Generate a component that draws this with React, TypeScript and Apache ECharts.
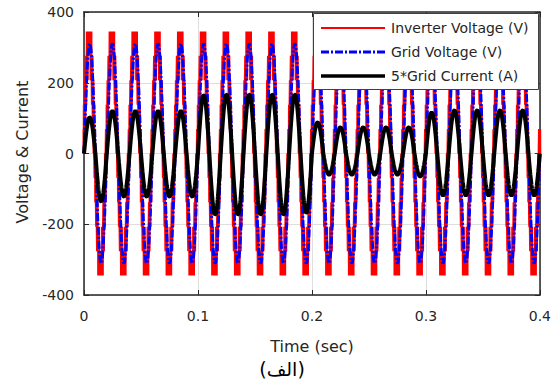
import React, { useEffect, useRef } from "react";
import * as echarts from "echarts";

// ---- data ----
const FREQ_HZ = 50;
const T_END = 0.4;
const xTicks = [0, 0.1, 0.2, 0.3, 0.4];
const yTicks = [-400, -200, 0, 200, 400];

// per-cycle (20 cycles of 50 Hz) peak / trough of "5*Grid Current"
const currentPeaks = [102, 120, 120, 120, 120, 165, 167, 167, 167, 167, 88, 74, 74, 74, 74, 116, 122, 122, 122, 122];
const currentTroughs = [-136, -122, -122, -122, -122, -173, -173, -173, -173, -168, -60, -60, -60, -60, -65, -119, -119, -119, -119, -119];
// per-cycle amplitude of grid voltage
const gridVoltagePeaks = [311, 311, 311, 311, 311, 311, 311, 311, 311, 311, 311, 311, 311, 311, 311, 311, 311, 311, 311, 311];
// multilevel inverter: reference amplitude per cycle and voltage levels
const inverterRefPeaks = [325, 325, 325, 325, 325, 325, 325, 325, 325, 325, 325, 325, 325, 325, 325, 325, 325, 325, 325, 325];
const inverterLevels = [0, 69, 138, 207, 276, 345];
const inverterLeadSec = 0.0005;
const carrierPeriodSec = 0.0002;
const sampleStepSec = 0.0001;

const seriesNames = ["Inverter Voltage (V)", "Grid Voltage (V)", "5*Grid Current (A)"];
const seriesColors = ["#ff0000", "#0000ff", "#000000"];

const W = 2 * Math.PI * FREQ_HZ;
const nCycles = gridVoltagePeaks.length;
const cycleOf = (t: number) => Math.max(0, Math.min(nCycles - 1, Math.floor(t * FREQ_HZ + 1e-9)));

function buildGrid() {
  const pts: number[][] = [];
  const n = Math.round(T_END / sampleStepSec);
  for (let i = 0; i <= n; i++) {
    const t = i * sampleStepSec;
    pts.push([t, gridVoltagePeaks[cycleOf(t)] * Math.sin(W * t)]);
  }
  return pts;
}

function buildCurrent() {
  const pts: number[][] = [];
  const n = Math.round(T_END / sampleStepSec);
  for (let i = 0; i <= n; i++) {
    const t = i * sampleStepSec;
    const k = cycleOf(t);
    const s = Math.sin(W * t);
    pts.push([t, s >= 0 ? currentPeaks[k] * s : -currentTroughs[k] * s]);
  }
  return pts;
}

function buildInverter() {
  const pts: number[][] = [];
  const step = inverterLevels[1] - inverterLevels[0];
  const nP = Math.round(T_END / carrierPeriodSec);
  const Tc = carrierPeriodSec;
  for (let i = 0; i < nP; i++) {
    const t0 = i * Tc;
    const tm = t0 + Tc / 2;
    const k = cycleOf(tm);
    const ref = inverterRefPeaks[k] * Math.sin(W * (tm + inverterLeadSec));
    const a = Math.abs(ref);
    const sg = ref >= 0 ? 1 : -1;
    let lo = Math.floor(a / step);
    if (lo >= inverterLevels.length - 1) lo = inverterLevels.length - 2;
    const frac = Math.min(1, (a - inverterLevels[lo]) / step);
    const vLo = sg * inverterLevels[lo];
    const vHi = sg * inverterLevels[lo + 1];
    const on = frac * Tc;
    pts.push([t0, vLo]);
    if (on > Tc * 0.02) {
      const a1 = t0 + (Tc - on) / 2;
      const a2 = t0 + (Tc + on) / 2;
      pts.push([a1, vLo], [a1, vHi], [a2, vHi], [a2, vLo]);
    }
  }
  pts.push([T_END, pts[pts.length - 1][1]]);
  return pts;
}

const FONT = "'DejaVu Sans', Verdana, sans-serif";
const TXT = "#262626";

export default function App() {
  const ref = useRef<HTMLDivElement>(null);
  useEffect(() => {
    if (!ref.current) return;
    const chart = echarts.init(ref.current, null, { renderer: "svg" });
    const gridL = 84, gridR = 14, gridT = 12, gridB = 90;
    const axisCommon = {
      type: "value" as const,
      axisLine: { show: true, onZero: false, lineStyle: { color: TXT, width: 1.5 } },
      axisTick: { show: true, inside: true, length: 5, lineStyle: { color: TXT, width: 1 } },
    };
    const lineW = [3, 3, 4];
    const legendLineW = [2, 3, 3.5];
    const lineDash: any[] = [null, [8, 2, 2, 2], null];
    const legendX = 313, legendY = 13, legendW = 225, legendH = 76;
    const legendRows = [28, 52, 76];
    const legendGraphics: any[] = [
      {
        type: "rect",
        shape: { x: legendX + 0.5, y: legendY + 0.5, width: legendW, height: legendH },
        style: { fill: "#ffffff", stroke: "#404040", lineWidth: 1 },
        z: 100,
      },
    ];
    seriesNames.forEach((nm, i) => {
      legendGraphics.push({
        type: "line",
        shape: { x1: 321, y1: legendRows[i], x2: 385, y2: legendRows[i] },
        style: { stroke: seriesColors[i], lineWidth: legendLineW[i], lineDash: lineDash[i] || undefined },
        z: 101,
      });
      legendGraphics.push({
        type: "text",
        x: 391,
        y: legendRows[i],
        style: { text: nm, fontSize: 14, fontFamily: FONT, fill: TXT, align: "left", verticalAlign: "middle" },
        z: 101,
      });
    });
    chart.setOption({
      animation: false,
      backgroundColor: "#ffffff",
      grid: { left: gridL, right: gridR, top: gridT, bottom: gridB, containLabel: false },
      xAxis: [
        {
          ...axisCommon,
          min: xTicks[0],
          max: xTicks[xTicks.length - 1],
          interval: xTicks[1] - xTicks[0],
          position: "bottom",
          axisLabel: {
            show: true,
            margin: 14,
            fontSize: 14,
            color: TXT,
            fontFamily: FONT,
            formatter: (v: number) => String(Math.round(v * 10) / 10),
          },
          splitLine: { show: true, lineStyle: { color: "#dedede", width: 1 } },
        },
        {
          ...axisCommon,
          min: xTicks[0],
          max: xTicks[xTicks.length - 1],
          interval: xTicks[1] - xTicks[0],
          position: "top",
          axisLabel: { show: false },
          splitLine: { show: false },
        },
      ],
      yAxis: [
        {
          ...axisCommon,
          min: yTicks[0],
          max: yTicks[yTicks.length - 1],
          interval: yTicks[1] - yTicks[0],
          position: "left",
          axisLabel: { show: true, margin: 10, fontSize: 14, color: TXT, fontFamily: FONT },
          splitLine: { show: true, lineStyle: { color: "#dedede", width: 1 } },
        },
        {
          ...axisCommon,
          min: yTicks[0],
          max: yTicks[yTicks.length - 1],
          interval: yTicks[1] - yTicks[0],
          position: "right",
          axisLabel: { show: false },
          splitLine: { show: false },
        },
      ],
      series: [
        {
          name: seriesNames[0],
          type: "line",
          data: buildInverter(),
          showSymbol: false,
          symbol: "none",
          lineStyle: { color: seriesColors[0], width: lineW[0] },
          z: 2,
        },
        {
          name: seriesNames[1],
          type: "line",
          data: buildGrid(),
          showSymbol: false,
          symbol: "none",
          lineStyle: { color: seriesColors[1], width: lineW[1], type: lineDash[1] },
          z: 3,
        },
        {
          name: seriesNames[2],
          type: "line",
          data: buildCurrent(),
          showSymbol: false,
          symbol: "none",
          lineStyle: { color: seriesColors[2], width: lineW[2] },
          z: 4,
        },
      ],
      graphic: [
        ...legendGraphics,
        {
          type: "text",
          x: 22,
          y: 152,
          rotation: Math.PI / 2,
          style: {
            text: "Voltage & Current",
            fontSize: 16,
            fontFamily: FONT,
            fill: TXT,
            align: "center",
            verticalAlign: "middle",
          },
        },
        {
          type: "text",
          x: 312,
          y: 346,
          style: {
            text: "Time (sec)",
            fontSize: 16,
            fontFamily: FONT,
            fill: TXT,
            align: "center",
            verticalAlign: "middle",
          },
        },
        {
          type: "text",
          x: 282,
          y: 369,
          style: {
            text: "(الف)",
            fontSize: 19,
            fontFamily: FONT,
            fill: "#000000",
            align: "center",
            verticalAlign: "middle",
          },
        },
      ],
    });
    return () => chart.dispose();
  }, []);
  return (
    <div
      ref={ref}
      style={{ position: "fixed", left: 0, top: 0, width: 554, height: 385, background: "#fff" }}
    />
  );
}
